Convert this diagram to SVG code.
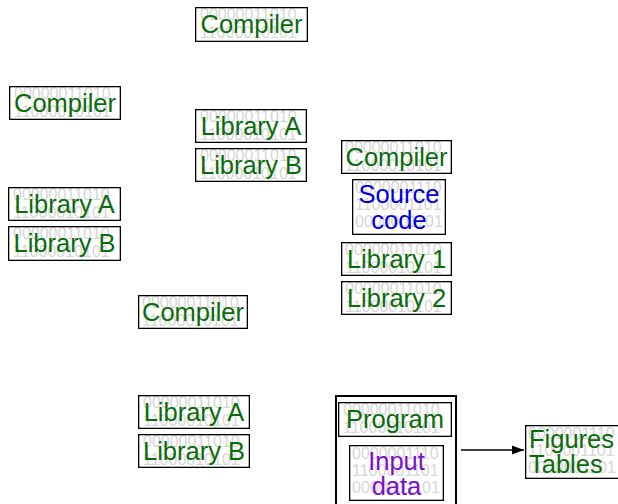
<svg xmlns="http://www.w3.org/2000/svg" width="618" height="504" viewBox="0 0 618 504">
<defs>
<style>
.bg{fill:#fff}
.frame{fill:none;stroke:#000;stroke-width:1.3}
.bin{font-family:"Liberation Sans",Arial,sans-serif;font-size:16px;fill:#d6d6d6}
.lbl{font-family:"Liberation Sans",Arial,sans-serif;font-size:25.5px;text-anchor:middle}
.g{fill:#0a6b0a}
.b{fill:#0000dd}
.p{fill:#7a10c8}
.edge{stroke:#000;stroke-width:1.5;fill:none}
</style>
<marker id="arr" viewBox="0 0 12 10" refX="12" refY="5" markerWidth="12" markerHeight="10" markerUnits="userSpaceOnUse" orient="auto">
<path d="M0,0.5 L12,5 L0,9.5 Z" fill="#000"/>
</marker>
</defs>
<rect width="618" height="504" fill="#fff"/>

<g id="compiler-top"><svg x="195" y="7" width="113" height="35"><rect class="bg" width="113" height="35"/><text class="bin" x="5" y="13">00000011010</text><text class="bin" x="5" y="31">11000010101</text><text class="lbl g" x="56.5" y="26">Compiler</text><rect class="frame" x="0.65" y="0.65" width="111.7" height="33.7"/></svg></g>

<g id="compiler-left"><svg x="9" y="86" width="112" height="34"><rect class="bg" width="112" height="34"/><text class="bin" x="5" y="13">00000011010</text><text class="bin" x="5" y="31">11000010101</text><text class="lbl g" x="56" y="26">Compiler</text><rect class="frame" x="0.65" y="0.65" width="110.7" height="32.7"/></svg></g>

<g id="libA-top"><svg x="195" y="109" width="112" height="34"><rect class="bg" width="112" height="34"/><text class="bin" x="5" y="13">00000011010</text><text class="bin" x="5" y="31">11000010101</text><text class="lbl g" x="56" y="26">Library A</text><rect class="frame" x="0.65" y="0.65" width="110.7" height="32.7"/></svg></g>
<g id="libB-top"><svg x="195" y="148" width="112" height="34"><rect class="bg" width="112" height="34"/><text class="bin" x="5" y="13">00000011010</text><text class="bin" x="5" y="31">11000010101</text><text class="lbl g" x="56" y="26">Library B</text><rect class="frame" x="0.65" y="0.65" width="110.7" height="32.7"/></svg></g>

<g id="libA-left"><svg x="8" y="187" width="113" height="34"><rect class="bg" width="113" height="34"/><text class="bin" x="5" y="13">00000011010</text><text class="bin" x="5" y="31">11000010101</text><text class="lbl g" x="56.5" y="26">Library A</text><rect class="frame" x="0.65" y="0.65" width="111.7" height="32.7"/></svg></g>
<g id="libB-left"><svg x="8" y="226" width="113" height="35"><rect class="bg" width="113" height="35"/><text class="bin" x="5" y="13">00000011010</text><text class="bin" x="5" y="31">11000010101</text><text class="lbl g" x="56.5" y="26">Library B</text><rect class="frame" x="0.65" y="0.65" width="111.7" height="33.7"/></svg></g>

<g id="compiler-right"><svg x="341" y="140" width="111" height="34"><rect class="bg" width="111" height="34"/><text class="bin" x="4" y="13">00000011010</text><text class="bin" x="4" y="31">11000010101</text><text class="lbl g" x="55.5" y="26">Compiler</text><rect class="frame" x="0.65" y="0.65" width="109.7" height="32.7"/></svg></g>
<g id="source-code"><svg x="352" y="179" width="94" height="56"><rect class="bg" width="94" height="56"/><text class="bin" x="3" y="14">0000001110</text><text class="bin" x="3" y="31">1100001101</text><text class="bin" x="3" y="48">0000001101</text><text class="lbl b" x="47" y="24">Source</text><text class="lbl b" x="47" y="50">code</text><rect class="frame" x="0.65" y="0.65" width="92.7" height="54.7"/></svg></g>
<g id="lib1"><svg x="341" y="242" width="111" height="34"><rect class="bg" width="111" height="34"/><text class="bin" x="4" y="13">00000011010</text><text class="bin" x="4" y="31">11000010101</text><text class="lbl g" x="55.5" y="26">Library 1</text><rect class="frame" x="0.65" y="0.65" width="109.7" height="32.7"/></svg></g>
<g id="lib2"><svg x="341" y="281" width="111" height="34"><rect class="bg" width="111" height="34"/><text class="bin" x="4" y="13">00000011010</text><text class="bin" x="4" y="31">11000010101</text><text class="lbl g" x="55.5" y="26">Library 2</text><rect class="frame" x="0.65" y="0.65" width="109.7" height="32.7"/></svg></g>

<g id="compiler-mid"><svg x="138" y="295" width="110" height="34"><rect class="bg" width="110" height="34"/><text class="bin" x="4" y="13">00000011010</text><text class="bin" x="4" y="31">11000010101</text><text class="lbl g" x="55" y="26">Compiler</text><rect class="frame" x="0.65" y="0.65" width="108.7" height="32.7"/></svg></g>

<g id="libA-bottom"><svg x="138" y="395" width="112" height="34"><rect class="bg" width="112" height="34"/><text class="bin" x="5" y="13">00000011010</text><text class="bin" x="5" y="31">11000010101</text><text class="lbl g" x="56" y="26">Library A</text><rect class="frame" x="0.65" y="0.65" width="110.7" height="32.7"/></svg></g>
<g id="libB-bottom"><svg x="138" y="434" width="112" height="34"><rect class="bg" width="112" height="34"/><text class="bin" x="5" y="13">00000011010</text><text class="bin" x="5" y="31">11000010101</text><text class="lbl g" x="56" y="26">Library B</text><rect class="frame" x="0.65" y="0.65" width="110.7" height="32.7"/></svg></g>

<g id="run-box">
<rect x="336" y="396" width="120" height="120" fill="#fff" stroke="#000" stroke-width="2"/>
</g>
<g id="program"><svg x="338" y="402" width="114" height="35"><rect class="bg" width="114" height="35"/><text class="bin" x="5" y="13">00000011010</text><text class="bin" x="5" y="31">11000010101</text><text class="lbl g" x="57" y="26">Program</text><rect class="frame" x="0.65" y="0.65" width="112.7" height="33.7"/></svg></g>
<g id="input-data"><svg x="349" y="445" width="95" height="56"><rect class="bg" width="95" height="56"/><text class="bin" x="3" y="14">0000001110</text><text class="bin" x="3" y="31">1100001101</text><text class="bin" x="3" y="48">0000001101</text><text class="lbl p" x="47.5" y="25">Input</text><text class="lbl p" x="47.5" y="50">data</text><rect class="frame" x="0.65" y="0.65" width="93.7" height="54.7"/></svg></g>

<g id="connectors">
<line class="edge" x1="461" y1="450" x2="524" y2="450" marker-end="url(#arr)"/>
</g>

<g id="figures-tables"><svg x="525" y="425" width="100" height="54"><rect class="bg" width="100" height="54"/><text class="bin" x="3" y="14">0000001110</text><text class="bin" x="3" y="31">1100001101</text><text class="bin" x="3" y="48">0000001101</text><text class="lbl g" x="4" y="23" style="text-anchor:start">Figures</text><text class="lbl g" x="4" y="48" style="text-anchor:start">Tables</text><rect class="frame" x="0.65" y="0.65" width="98" height="52.7"/></svg></g>
</svg>
